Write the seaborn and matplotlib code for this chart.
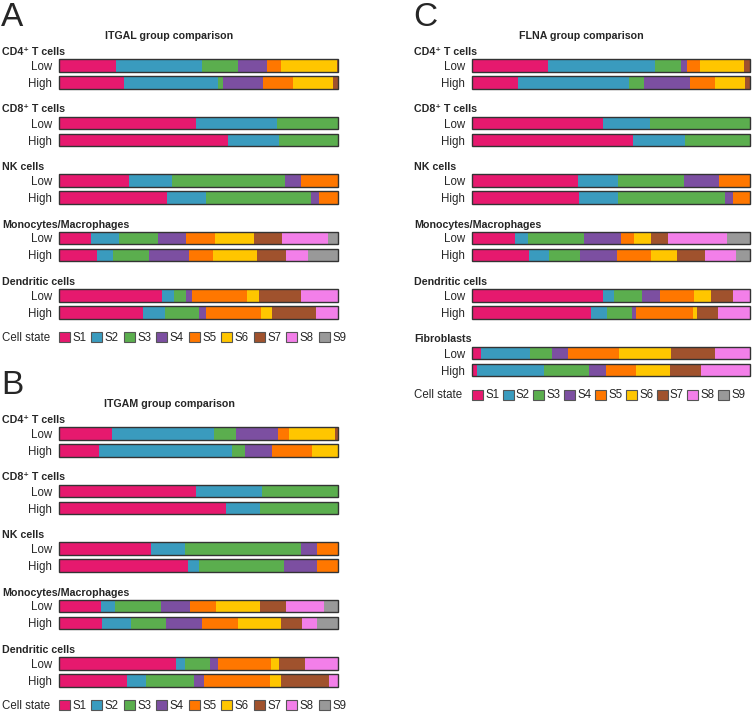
"""Cell state composition of cell types in Low vs High expression groups (ITGAL, ITGAM, FLNA)."""

import matplotlib

matplotlib.use("Agg")
import matplotlib.pyplot as plt  # noqa: E402
import numpy as np  # noqa: E402
import seaborn as sns  # noqa: E402
from matplotlib.patches import Patch  # noqa: E402

STATES = ["S1", "S2", "S3", "S4", "S5", "S6", "S7", "S8", "S9"]
STATE_COLORS = ["#E6196E", "#3A9BBE", "#5BAE4E", "#7C4FA1", "#FF7700",
                "#FFC600", "#A0522D", "#F37FE9", "#999999"]
GROUPS = ["Low", "High"]
IMMUNE_TYPES = ["CD4⁺ T cells", "CD8⁺ T cells", "NK cells",
                "Monocytes/Macrophages", "Dendritic cells"]
FLNA_TYPES = IMMUNE_TYPES + ["Fibroblasts"]

# fractions of S1..S9 per cell type
ITGAL_LOW = [
    [0.205, 0.308, 0.129, 0.103, 0.051, 0.200, 0.004, 0, 0],
    [0.491, 0.291, 0.218, 0, 0, 0, 0, 0, 0],
    [0.250, 0.153, 0.406, 0.056, 0.134, 0, 0, 0, 0],
    [0.114, 0.101, 0.140, 0.101, 0.102, 0.140, 0.101, 0.165, 0.037],
    [0.369, 0.043, 0.043, 0.023, 0.196, 0.044, 0.151, 0.131, 0],
]
ITGAL_HIGH = [
    [0.232, 0.339, 0.018, 0.143, 0.108, 0.144, 0.017, 0, 0],
    [0.606, 0.183, 0.211, 0, 0, 0, 0, 0, 0],
    [0.388, 0.139, 0.377, 0.028, 0.068, 0, 0, 0, 0],
    [0.135, 0.059, 0.127, 0.145, 0.087, 0.157, 0.105, 0.078, 0.107],
    [0.303, 0.079, 0.120, 0.025, 0.198, 0.040, 0.158, 0.078, 0],
]
ITGAM_LOW = [
    [0.189, 0.365, 0.080, 0.150, 0.041, 0.163, 0.012, 0, 0],
    [0.490, 0.238, 0.272, 0, 0, 0, 0, 0, 0],
    [0.328, 0.125, 0.414, 0.056, 0.077, 0, 0, 0, 0],
    [0.150, 0.051, 0.165, 0.102, 0.095, 0.158, 0.092, 0.138, 0.049],
    [0.419, 0.031, 0.090, 0.030, 0.190, 0.030, 0.090, 0.120, 0],
]
ITGAM_HIGH = [
    [0.143, 0.478, 0.047, 0.096, 0.143, 0.095, 0, 0, 0],
    [0.600, 0.121, 0.279, 0, 0, 0, 0, 0, 0],
    [0.462, 0.038, 0.308, 0.115, 0.077, 0, 0, 0, 0],
    [0.153, 0.103, 0.128, 0.128, 0.129, 0.154, 0.075, 0.053, 0.075],
    [0.242, 0.069, 0.172, 0.035, 0.240, 0.036, 0.172, 0.034, 0],
]
FLNA_LOW = [
    [0.273, 0.387, 0.092, 0.022, 0.046, 0.159, 0.022, 0, 0],
    [0.472, 0.170, 0.358, 0, 0, 0, 0, 0, 0],
    [0.381, 0.143, 0.240, 0.127, 0.110, 0, 0, 0, 0],
    [0.156, 0.047, 0.202, 0.132, 0.048, 0.060, 0.059, 0.214, 0.083],
    [0.471, 0.040, 0.102, 0.062, 0.122, 0.062, 0.080, 0.061, 0],
    [0.034, 0.174, 0.081, 0.056, 0.184, 0.186, 0.159, 0.126, 0],
]
FLNA_HIGH = [
    [0.164, 0.401, 0.054, 0.164, 0.091, 0.109, 0.017, 0, 0],
    [0.580, 0.187, 0.234, 0, 0, 0, 0, 0, 0],
    [0.386, 0.138, 0.386, 0.030, 0.061, 0, 0, 0, 0],
    [0.204, 0.072, 0.114, 0.132, 0.123, 0.091, 0.103, 0.111, 0.050],
    [0.428, 0.059, 0.089, 0.014, 0.206, 0.014, 0.074, 0.116, 0],
    [0.019, 0.241, 0.162, 0.059, 0.110, 0.121, 0.110, 0.178, 0],
]

W, H = 753, 714
ROW_PX = 17.0
GROUP_PX = 57.5
BAR_W = 0.72
LABEL_FS = 8.3
HEAD_FS = 7.7

sns.set_style("white")
plt.rcParams["font.family"] = ["Liberation Sans", "DejaVu Sans"]


def fy(y):
    return 1 - y / H


def draw_group(fig, low, high, x0, x1, yc):
    ax = fig.add_axes([x0 / W, fy(yc + 1.5 * ROW_PX), (x1 - x0) / W, 2 * ROW_PX / H])
    vals = np.array([low, high], dtype=float)
    vals = vals / vals.sum(axis=1, keepdims=True)
    cum = vals.cumsum(axis=1)
    # stacked bars: draw cumulative widths from the last state to the first
    for k in range(len(STATES) - 1, -1, -1):
        if not vals[:, k].any():
            continue
        sns.barplot(x=cum[:, k], y=GROUPS, order=GROUPS, orient="h",
                    color=STATE_COLORS[k], saturation=1, width=BAR_W,
                    errorbar=None, linewidth=0, ax=ax)
    sns.barplot(x=cum[:, -1], y=GROUPS, order=GROUPS, orient="h",
                color="#333333", fill=False, width=BAR_W, errorbar=None,
                linewidth=1.0, ax=ax)
    for p in ax.patches:
        p.set_clip_on(False)
    ax.set_xlim(0, 1)
    ax.set_ylim(1.5, -0.5)
    ax.set_xticks([])
    ax.set_xlabel("")
    ax.set_ylabel("")
    ax.tick_params(axis="y", length=0, pad=5, labelsize=LABEL_FS)
    sns.despine(ax=ax, left=True, bottom=True)
    ax.patch.set_alpha(0)


def draw_panel(fig, letter, title, types, low, high, px_left, bar_left, bar_right,
               y_first, col_space):
    fig.text((px_left + 1) / W, fy(y_first - 47.5), letter, fontsize=24,
             ha="left", va="center")
    fig.text((px_left + bar_right) / 2 / W, fy(y_first - 29.5), title,
             fontsize=HEAD_FS, fontweight="bold", ha="center", va="center")
    for i, ct in enumerate(types):
        yc = y_first + i * GROUP_PX
        fig.text((px_left + 2) / W, fy(yc - 13.5), ct, fontsize=HEAD_FS,
                 fontweight="bold", ha="left", va="center")
        draw_group(fig, low[i], high[i], bar_left, bar_right, yc)

    y_leg = y_first + (len(types) - 1) * GROUP_PX + ROW_PX + 25.5
    fig.text((px_left + 2) / W, fy(y_leg), "Cell state", fontsize=LABEL_FS,
             ha="left", va="center")
    handles = [Patch(facecolor=c, edgecolor="#555555", linewidth=0.8) for c in STATE_COLORS]
    fig.legend(handles, STATES, loc="center left",
               bbox_to_anchor=(bar_left / W, fy(y_leg)), ncol=len(STATES),
               frameon=False, fontsize=LABEL_FS, handlelength=0.95,
               handleheight=0.95, handletextpad=0.2, columnspacing=col_space,
               borderpad=0, borderaxespad=0)


def main() -> None:
    fig = plt.figure(figsize=(W / 100, H / 100), dpi=100)
    draw_panel(fig, "A", "ITGAL group comparison", IMMUNE_TYPES,
               ITGAL_LOW, ITGAL_HIGH, 0, 59, 338, 65.5, 0.45)
    draw_panel(fig, "B", "ITGAM group comparison", IMMUNE_TYPES,
               ITGAM_LOW, ITGAM_HIGH, 0, 59, 338, 433.5, 0.45)
    draw_panel(fig, "C", "FLNA group comparison", FLNA_TYPES,
               FLNA_LOW, FLNA_HIGH, 412, 472, 750, 65.5, 0.3)
    fig.savefig("out.png", dpi=100)


if __name__ == "__main__":
    main()
